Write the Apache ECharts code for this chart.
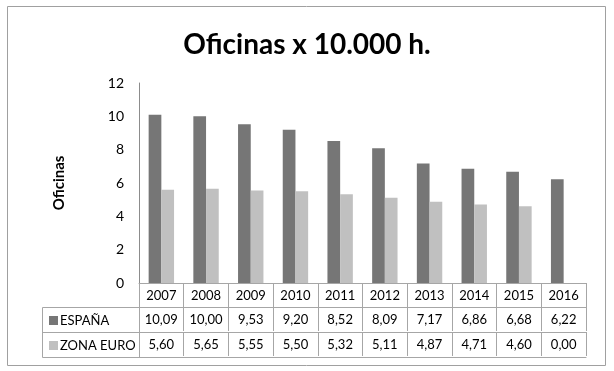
<!DOCTYPE html>
<html>
<head>
<meta charset="utf-8">
<script src="https://cdn.jsdelivr.net/npm/echarts@6/dist/echarts.min.js"></script>
<style>html,body{margin:0;padding:0;background:#fff}#c{width:614px;height:371px}</style>
</head>
<body>
<div id="c"></div>
<script>
var years = ['2007','2008','2009','2010','2011','2012','2013','2014','2015','2016'];
var espana = [10.09, 10.00, 9.53, 9.20, 8.52, 8.09, 7.17, 6.86, 6.68, 6.22];
var zonaEuro = [5.60, 5.65, 5.55, 5.50, 5.32, 5.11, 4.87, 4.71, 4.60, 0.00];
var yTicks = [0, 2, 4, 6, 8, 10, 12];
var seriesNames = ['ESPAÑA', 'ZONA EURO'];

var FONT = 'Lato';
var lineColor = '#a6a6a6';
function fmt(v){ return v.toFixed(2).replace('.', ','); }

var chart = echarts.init(document.getElementById('c'));
function rowAxis(offset, values, showLabel){
  return {
    type: 'category', data: years, position: 'bottom', offset: offset,
    axisLine: {show: true, lineStyle: {color: lineColor, width: 1}},
    axisTick: {show: true, length: 24, lineStyle: {color: lineColor, width: 1}},
    axisLabel: {show: showLabel, margin: 6, color: '#000', fontFamily: FONT, fontSize: 13,
      formatter: function(v, i){ return values ? values[i] : v; }},
    splitLine: {show: false}
  };
}
var option = {
  animation: false,
  title: {
    text: 'Oficinas x 10.000 h.', left: 'center', top: 26,
    textStyle: {fontFamily: FONT, fontWeight: 'bold', fontSize: 28, color: '#000'}
  },
  legend: {
    data: seriesNames, orient: 'vertical', left: 44, top: 309,
    icon: 'rect', itemWidth: 9, itemHeight: 9, itemGap: 12,
    textStyle: {fontFamily: FONT, fontSize: 13, color: '#000', lineHeight: 13, padding: [0,0,0,-3]}
  },
  grid: {left: 139, right: 28, top: 83, bottom: 88, containLabel: false},
  yAxis: {
    type: 'value', min: 0, max: 12, interval: 2,
    name: 'Oficinas', nameLocation: 'middle', nameGap: 72, nameRotate: 90,
    nameTextStyle: {fontFamily: FONT, fontWeight: 'bold', fontSize: 15, color: '#000'},
    axisLine: {show: true, lineStyle: {color: '#8c8c8c'}},
    axisTick: {show: false},
    splitLine: {show: false},
    axisLabel: {color: '#000', fontFamily: FONT, fontSize: 14, margin: 15,
      formatter: function(v){ return yTicks.indexOf(v) >= 0 ? String(v) : ''; }}
  },
  xAxis: [
    rowAxis(0, null, true),
    rowAxis(24, espana.map(fmt), true),
    rowAxis(49, zonaEuro.map(fmt), true),
    Object.assign(rowAxis(74, null, false), {axisTick: {show: false}})
  ],
  series: [
    {name: seriesNames[0], type: 'bar', data: espana, barWidth: 12.7, barGap: '0%',
     itemStyle: {color: '#767676'}},
    {name: seriesNames[1], type: 'bar', data: zonaEuro, barWidth: 12.7, barGap: '0%',
     itemStyle: {color: '#c0c0c0'}}
  ],
  graphic: [
    {type: 'rect', shape: {x: 7.5, y: 6.5, width: 598, height: 359}, style: {fill: 'none', stroke: '#a0a0a0', lineWidth: 1}, silent: true},
    {type: 'line', shape: {x1: 42.5, y1: 307.5, x2: 139, y2: 307.5}, style: {stroke: lineColor, lineWidth: 1}},
    {type: 'line', shape: {x1: 42.5, y1: 332.5, x2: 139, y2: 332.5}, style: {stroke: lineColor, lineWidth: 1}},
    {type: 'line', shape: {x1: 42.5, y1: 357.5, x2: 139, y2: 357.5}, style: {stroke: lineColor, lineWidth: 1}},
    {type: 'line', shape: {x1: 42.5, y1: 307.5, x2: 42.5, y2: 357.5}, style: {stroke: lineColor, lineWidth: 1}},
    {type: 'line', shape: {x1: 139.5, y1: 307.5, x2: 139.5, y2: 357.5}, style: {stroke: lineColor, lineWidth: 1}}
  ]
};
chart.setOption(option);
</script>
</body>
</html>
